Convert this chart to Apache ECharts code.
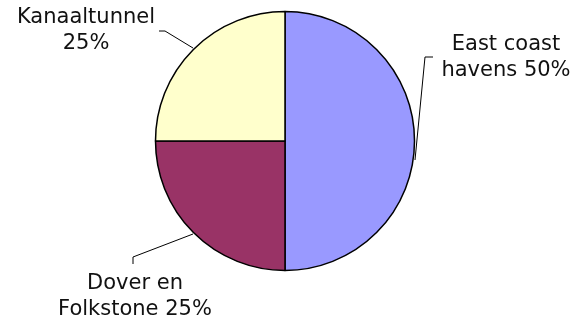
<!DOCTYPE html>
<html><head><meta charset="utf-8">
<script src="https://cdn.jsdelivr.net/npm/echarts@6/dist/echarts.min.js"></script>
<style>html,body{margin:0;padding:0;background:#fff}#c{width:583px;height:322px}</style>
</head><body><div id="c"></div>
<script>
const categories = ['East coast\nhavens', 'Dover en\nFolkstone', 'Kanaaltunnel'];
const labelTexts = ['East coast\nhavens 50%', 'Dover en\nFolkstone 25%', 'Kanaaltunnel\n25%'];
const values = [50, 25, 25];
const colors = ['#9999FF', '#993366', '#FFFFCC'];

// label placement (label centers and leader-line points)
const labelPos = [
  {x: 506, y: 58, line: [[415, 160], [425, 57], [433, 57]]},
  {x: 135, y: 297, line: [[193, 234], [133, 257], [133, 264]]},
  {x: 86, y: 31, line: [[193, 48], [165, 31], [159, 31]]}
];

const chart = echarts.init(document.getElementById('c'), null, {renderer: 'canvas'});
chart.setOption({
  animation: false,
  series: [{
    type: 'pie',
    center: [285, 141],
    radius: 129.5,
    startAngle: 90,
    clockwise: true,
    data: categories.map((c, i) => ({name: c, value: values[i], itemStyle: {color: colors[i]}})),
    itemStyle: {borderColor: '#000', borderWidth: 1.5},
    emphasis: {disabled: true},
    label: {
      show: true,
      formatter: p => labelTexts[p.dataIndex],
      fontFamily: 'DejaVu Sans',
      fontSize: 21,
      lineHeight: 26,
      color: '#111',
      align: 'center'
    },
    labelLine: {show: true, lineStyle: {color: '#000', width: 1}, length: 10, length2: 10},
    labelLayout: function (params) {
      const p = labelPos[params.dataIndex];
      return {x: p.x, y: p.y, align: 'center', verticalAlign: 'middle', labelLinePoints: p.line};
    }
  }]
});
</script></body></html>
